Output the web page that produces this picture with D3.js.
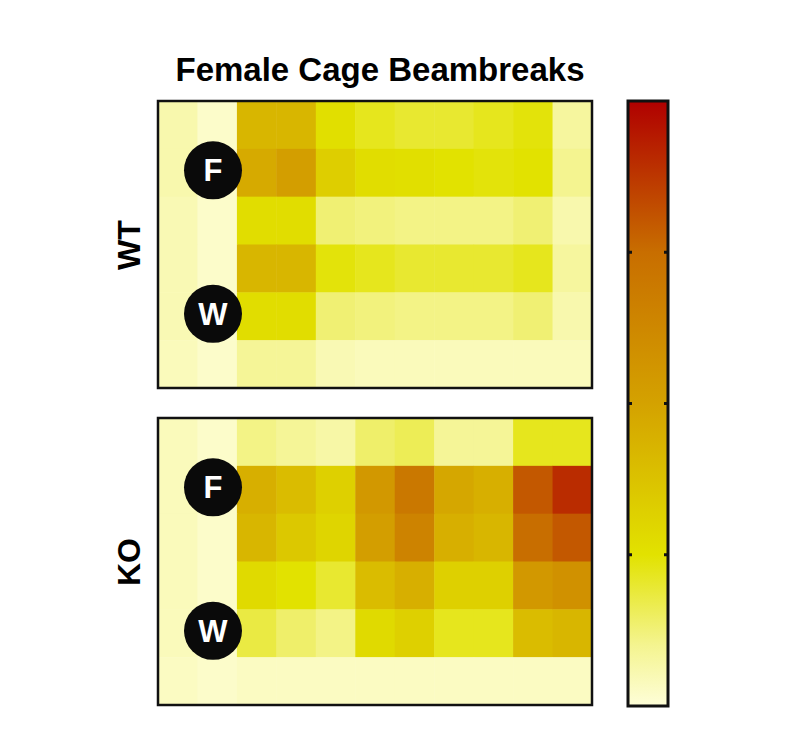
<!DOCTYPE html><html><head><script src="https://cdn.jsdelivr.net/npm/d3@7"></script>
<style>body{margin:0;background:#fff}</style></head><body><svg id="c" width="787" height="745"></svg>
<script>
const wt = [
[.06,.02,.42,.42,.26,.22,.20,.20,.22,.24,.08],
[.06,.02,.47,.52,.33,.27,.26,.25,.24,.25,.10],
[.05,.02,.27,.27,.13,.12,.11,.11,.11,.13,.06],
[.05,.02,.42,.42,.24,.22,.20,.20,.20,.22,.08],
[.05,.02,.27,.27,.13,.12,.11,.11,.11,.13,.06],
[.04,.02,.09,.09,.05,.04,.04,.04,.04,.04,.04]];
const ko = [
[.04,.02,.11,.09,.07,.14,.16,.09,.09,.22,.22],
[.04,.02,.45,.40,.32,.55,.70,.48,.45,.80,.90],
[.04,.02,.42,.35,.30,.52,.65,.45,.42,.75,.80],
[.04,.02,.28,.25,.20,.40,.45,.32,.32,.55,.58],
[.04,.02,.18,.14,.11,.28,.32,.22,.22,.40,.42],
[.03,.02,.03,.03,.03,.03,.03,.03,.03,.03,.03]];
const panels = [{name:"WT",data:wt,y0:101},{name:"KO",data:ko,y0:418}];
const dom=[0,.1,.25,.5,.75,1];
const stops=["#fefed8","#f4f490","#e2e200","#d4a200","#c86e00","#b00000"];
const color=d3.scaleLinear().domain(dom).range(stops).clamp(true);
const svg=d3.select("#c");
const x=d3.scaleBand().domain(d3.range(11)).range([158,592]);
svg.append("text").attr("x",380).attr("y",81).attr("text-anchor","middle").attr("font-family","Liberation Sans,Arial").attr("font-weight","bold").attr("font-size",33).text("Female Cage Beambreaks");
panels.forEach(p=>{
  const y=d3.scaleBand().domain(d3.range(6)).range([p.y0,p.y0+287]);
  const g=svg.append("g");
  p.data.forEach((row,r)=>row.forEach((v,c)=>{
    g.append("rect").attr("x",x(c)).attr("y",y(r)).attr("width",x.bandwidth()+0.5).attr("height",y.bandwidth()+0.5).attr("fill",color(v));
  }));
  g.append("rect").attr("x",158).attr("y",p.y0).attr("width",434).attr("height",287).attr("fill","none").attr("stroke","#111").attr("stroke-width",2.5);
  [["F",y(1)+y.bandwidth()*0.45],["W",y(4)+y.bandwidth()*0.45]].forEach(([t,cy])=>{
    g.append("circle").attr("cx",213).attr("cy",cy).attr("r",29).attr("fill","#0a0a0a");
    g.append("text").attr("x",213).attr("y",cy+11).attr("text-anchor","middle").attr("fill","#fff").attr("font-family","Liberation Sans,Arial").attr("font-weight","bold").attr("font-size",31).text(t);
  });
  svg.append("text").attr("transform",`translate(140,${p.y0+144}) rotate(-90)`).attr("text-anchor","middle").attr("font-family","Liberation Sans,Arial").attr("font-weight","bold").attr("font-size",32).text(p.name);
});
const defs=svg.append("defs");
const lg=defs.append("linearGradient").attr("id","lg").attr("x1",0).attr("y1",1).attr("x2",0).attr("y2",0);
stops.forEach((s,i)=>lg.append("stop").attr("offset",dom[i]).attr("stop-color",s));
const cb=d3.scaleLinear().domain([0,1]).range([706,101]);
svg.append("rect").attr("x",628).attr("y",101).attr("width",40).attr("height",605).attr("fill","url(#lg)").attr("stroke","#111").attr("stroke-width",3);
[.25,.5,.75].forEach(t=>{
  svg.append("line").attr("x1",628).attr("x2",632).attr("y1",cb(t)).attr("y2",cb(t)).attr("stroke","#111").attr("stroke-width",3);
  svg.append("line").attr("x1",664).attr("x2",668).attr("y1",cb(t)).attr("y2",cb(t)).attr("stroke","#111").attr("stroke-width",3);
});
</script></body></html>
